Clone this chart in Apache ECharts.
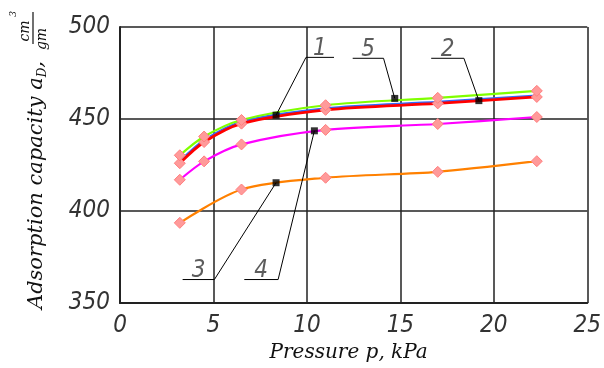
<!DOCTYPE html>
<html>
<head>
<meta charset="utf-8">
<script src="https://cdn.jsdelivr.net/npm/echarts@6/dist/echarts.min.js"></script>
<style>
  html, body { margin: 0; padding: 0; background: #fff; }
  #chart { width: 604px; height: 368px; }
</style>
</head>
<body>
<div id="chart"></div>
<script>
// pressure, kPa
var pressure = [3.2, 4.5, 6.5, 11, 17, 22.3];
var pressureOrange = [3.2, 6.5, 11, 17, 22.3];

// adsorption capacity per curve
var curveGreen = [430.3, 440.5, 449.5, 457.5, 461.5, 465.3];
var curveBlue = [427.0, 438.5, 448.5, 455.8, 459.3, 462.8];
var curveRed = [426.0, 437.5, 447.5, 455.0, 458.5, 462.0];
var curveMagenta = [417.0, 427.0, 436.2, 444.1, 447.3, 451.1];
var curveOrange = [393.6, 411.7, 418.1, 421.3, 427.1];

var xTicks = [0, 5, 10, 15, 20, 25];
var yTicks = [350, 400, 450, 500];

// numbered callouts: point on curve, bend of leader, end of shelf
var tagNames = ['1', '2', '3', '4', '5'];
var tagPoint = [[8.35, 452.1], [19.2, 460.0], [8.35, 415.4], [10.4, 443.6], [14.7, 461.2]];
var tagElbow = [[9.95, 483.5], [18.4, 483.0], [5.05, 362.8], [8.46, 362.8], [14.1, 483.0]];
var tagEnd = [[11.45, 483.5], [16.65, 483.0], [3.35, 362.8], [6.65, 362.8], [12.45, 483.0]];

var tickFont = 'DejaVu Sans Condensed';
var titleFont = 'DejaVu Serif';
var diamondColor = '#ff9a9a';

function pairs(xs, ys) {
    return xs.map(function (x, i) { return [x, ys[i]]; });
}

function curve(name, xs, ys, color, width, z, showMarks) {
    return {
        name: name,
        type: 'line',
        data: pairs(xs, ys),
        smooth: 0.3,
        symbol: 'diamond',
        symbolSize: 11,
        showSymbol: showMarks,
        z: z,
        lineStyle: { color: color, width: width },
        itemStyle: { color: diamondColor, borderColor: '#ff7f7f', borderWidth: 1 },
        emphasis: { disabled: true }
    };
}

var series = [
    curve('orange', pressureOrange, curveOrange, '#ff8000', 2.2, 2, true),
    curve('magenta', pressure, curveMagenta, '#ff00ff', 2.2, 3, true),
    curve('blue', pressure, curveBlue, '#2f6cff', 2.2, 4, false),
    curve('red', pressure, curveRed, '#ff0000', 2.8, 5, true),
    curve('green', pressure, curveGreen, '#80ff00', 2.2, 6, true)
];

// leader lines
tagNames.forEach(function (t, i) {
    series.push({
        type: 'line',
        data: [tagPoint[i], tagElbow[i], tagEnd[i]],
        symbol: 'none',
        z: 8,
        lineStyle: { color: '#000', width: 1 },
        silent: true
    });
});

// black marks on curves
series.push({
    type: 'scatter',
    data: tagPoint,
    symbol: 'rect',
    symbolSize: 7,
    z: 9,
    itemStyle: { color: '#000' },
    silent: true
});

// callout numbers
series.push({
    type: 'scatter',
    data: tagNames.map(function (t, i) {
        return { value: [(tagElbow[i][0] + tagEnd[i][0]) / 2, tagEnd[i][1]], label: { formatter: t } };
    }),
    symbolSize: 0,
    z: 9,
    silent: true,
    label: {
        show: true,
        position: 'top',
        distance: -3,
        fontFamily: tickFont,
        fontStyle: 'italic',
        fontSize: 24,
        color: '#333'
    }
});

var option = {
    backgroundColor: '#fff',
    animation: false,
    grid: { left: 120, right: 14, top: 27, bottom: 60 },
    xAxis: {
        type: 'value',
        min: xTicks[0],
        max: xTicks[xTicks.length - 1],
        interval: 5,
        name: 'Pressure p, kPa',
        nameLocation: 'middle',
        nameGap: 38,
        nameTextStyle: { fontFamily: titleFont, fontStyle: 'italic', fontSize: 20, color: '#111', padding: [0, 10, 0, 0] },
        axisLine: { show: true, lineStyle: { color: '#222', width: 2 } },
        axisTick: { show: false },
        splitLine: { show: true, lineStyle: { color: '#222', width: 1.5 } },
        axisLabel: { margin: 11, fontFamily: tickFont, fontStyle: 'italic', fontSize: 24, color: '#333' }
    },
    yAxis: {
        type: 'value',
        min: yTicks[0],
        max: yTicks[yTicks.length - 1],
        interval: 50,
        axisLine: { show: true, lineStyle: { color: '#222', width: 2 } },
        axisTick: { show: false },
        splitLine: { show: true, lineStyle: { color: '#222', width: 1.5 } },
        axisLabel: { margin: 10, fontFamily: tickFont, fontStyle: 'italic', fontSize: 24, color: '#333' }
    },
    graphic: [
        {
            type: 'text',
            x: 37, y: 185,
            rotation: Math.PI / 2,
            style: {
                text: 'Adsorption capacity a{sub|D},',
                fontFamily: titleFont, fontStyle: 'italic', fontSize: 21, fill: '#111',
                align: 'center', verticalAlign: 'middle',
                rich: { sub: { fontFamily: titleFont, fontStyle: 'italic', fontSize: 12, fill: '#111', padding: [12, 0, 0, 0] } }
            }
        },
        {
            type: 'text', x: 25, y: 31, rotation: Math.PI / 2,
            style: { text: 'cm', fontFamily: titleFont, fontStyle: 'italic', fontSize: 14, fill: '#111', align: 'center', verticalAlign: 'middle' }
        },
        {
            type: 'text', x: 14, y: 14, rotation: Math.PI / 2,
            style: { text: '3', fontFamily: titleFont, fontStyle: 'italic', fontSize: 9, fill: '#111', align: 'center', verticalAlign: 'middle' }
        },
        {
            type: 'line', shape: { x1: 33, y1: 12, x2: 33, y2: 44 },
            style: { stroke: '#111', lineWidth: 1.2 }
        },
        {
            type: 'text', x: 42, y: 39, rotation: Math.PI / 2,
            style: { text: 'gm', fontFamily: titleFont, fontStyle: 'italic', fontSize: 14, fill: '#111', align: 'center', verticalAlign: 'middle' }
        }
    ],
    series: series
};

var myChart = echarts.init(document.getElementById('chart'));
myChart.setOption(option);
</script>
</body>
</html>
